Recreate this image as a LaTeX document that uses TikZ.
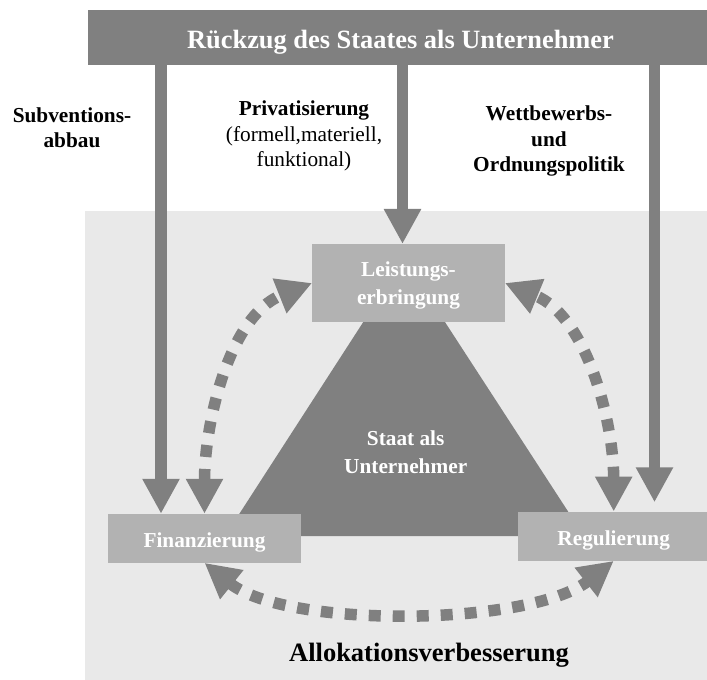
\documentclass[tikz,border=0pt]{standalone}
\usepackage{fontspec}
\setmainfont{Liberation Serif}
\usetikzlibrary{arrows.meta}
\definecolor{dk}{HTML}{808080}
\definecolor{bx}{HTML}{B2B2B2}
\definecolor{bgc}{HTML}{E9E9E9}
\begin{document}
\begin{tikzpicture}[x=1pt,y=1pt,
  box/.style={fill=bx, minimum width=192.4pt, inner sep=0pt, text=white,
    font=\bfseries\fontsize{21.3}{28.5}\selectfont, align=center},
  lab/.style={font=\bfseries\fontsize{21.3}{25.5}\selectfont, align=center, anchor=base, inner sep=0pt},
  solidarrow/.style={draw=dk, line width=11.6pt, -{Triangle[length=35pt,width=35pt]}},
  dotarrow/.style={draw=dk, line width=11.5pt, dash pattern=on 12pt off 12pt,
    {Triangle[length=35pt,width=35pt]}-{Triangle[length=35pt,width=35pt]}},
]
\useasboundingbox (0,0) rectangle (707,-680);
\clip (0,0) rectangle (707,-680);
% background
\fill[bgc] (85,-210.7) rectangle (720,-690);
% top bar
\node[fill=dk, minimum width=625pt, minimum height=55pt, inner sep=0pt, text=white,
  font=\bfseries\fontsize{26.4}{30}\selectfont, text height=21pt, text depth=0pt]
  (top) at (400.5,-37.5) {Rückzug des Staates als Unternehmer};
% triangle
\fill[dk] (404,-259) -- (584,-536) -- (225,-536) -- cycle;
\node[lab, text=white, font=\bfseries\fontsize{21.3}{28.3}\selectfont] (st) at (405.7,-473.3) {Staat als\\Unternehmer};
% boxes
\node[box, minimum height=77.7pt, text depth=0pt] (L) at (408.5,-283) {Leistungs-\\erbringung};
\node[box, minimum height=48.7pt, text height=19pt, text depth=0pt] (F) at (204.5,-538.3) {Finanzierung};
\node[box, minimum height=49pt, text height=19pt, text depth=0pt] (R) at (613.7,-536.2) {Regulierung};
% solid arrows
\coordinate (a1) at (161,-65);
\coordinate (a2) at (402.5,-65);
\coordinate (a3) at (654.5,-65);
\coordinate (e3) at (654.5,-502.3);
\draw[solidarrow] (a1) -- (a1 |- F.north);
\draw[solidarrow] (a2) -- (a2 |- L.north);
\draw[solidarrow] (a3) -- (e3);
% dotted arrows
\draw[dotarrow] (F.north) to[out=90, in=201.7, looseness=0.9] (L.west);
\draw[dotarrow] (R.north) to[out=90, in=-22.4, looseness=0.9] (L.east);
\draw[dotarrow] (F.south) to[out=-38.7, in=218, looseness=0.66] (R.south);
% labels
\node[lab] (sub) at (72,-147.7) {Subventions-\\abbau};
\node[lab] (pri) at (304,-166.7) {Privatisierung\\{\mdseries(formell,materiell,}\\{\mdseries funktional)}};
\node[lab] (wet) at (549,-171.7) {Wettbewerbs-\\und\\Ordnungspolitik};
\node[font=\bfseries\fontsize{26.5}{30}\selectfont, anchor=base, inner sep=0pt] (alloc) at (429,-661.7) {Allokationsverbesserung};
\end{tikzpicture}
\end{document}
